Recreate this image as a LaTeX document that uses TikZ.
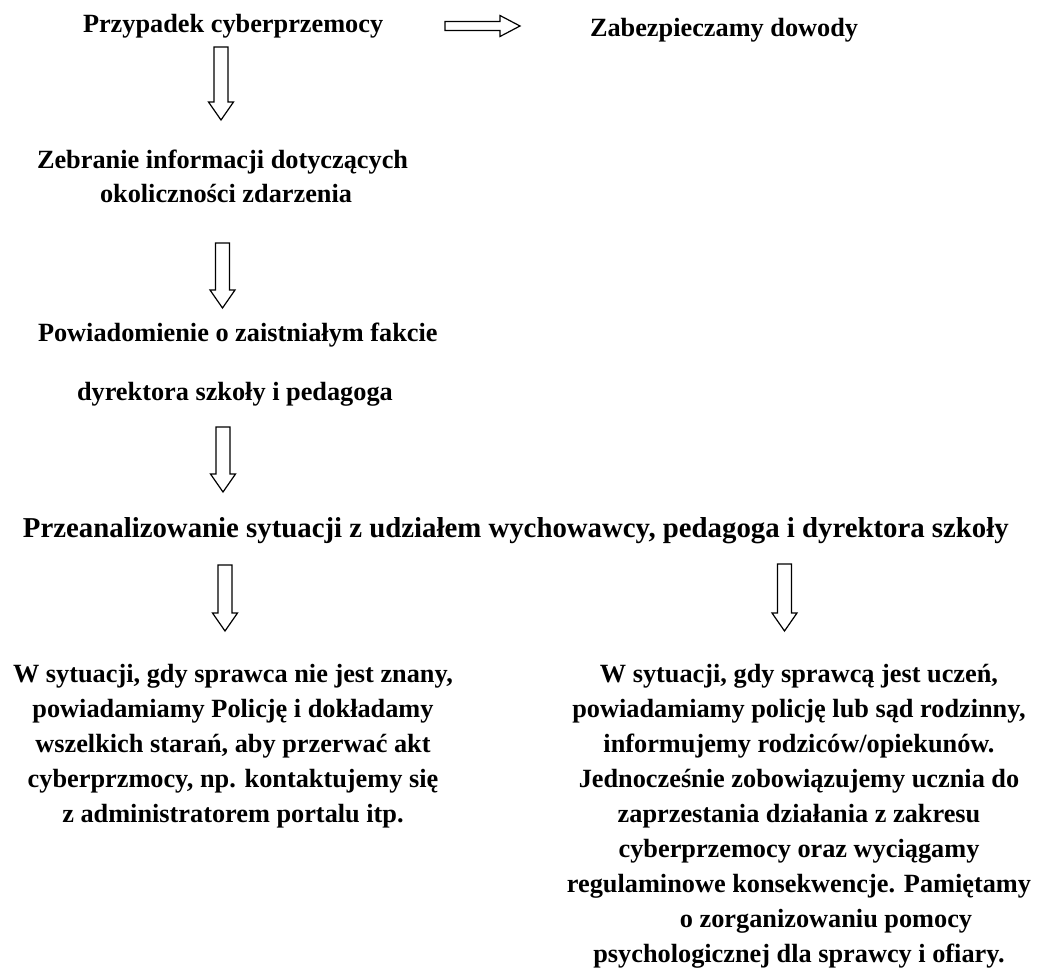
\documentclass[tikz,border=0pt]{standalone}
\usepackage{fontspec}
\setmainfont{Liberation Serif}
\newcommand\DArrow[3]{% x, top, tip
  \draw[blockarrow] ({#1-7},#2) -- ({#1+7},#2) -- ({#1+7},{#3-18}) -- ({#1+12.5},{#3-18})
    -- (#1,#3) -- ({#1-12.5},{#3-18}) -- ({#1-7},{#3-18}) -- cycle;}
\begin{document}
\begin{tikzpicture}[x=1pt,y=-1pt,
  txt/.style={inner sep=0pt,outer sep=0pt,font=\fontsize{26.3}{35}\selectfont\bfseries},
  para/.style={txt,align=center},
  blockarrow/.style={draw=black,line width=1.2pt,fill=white,line join=miter}]
\useasboundingbox[fill=white] (0,0) rectangle (1037,978);

\node[txt,anchor=base west] (t1) at (83,32) {Przypadek cyberprzemocy};
\node[txt,anchor=base west] (t2) at (590,36) {Zabezpieczamy dowody};
\node[txt,anchor=base west] (t3a) at (37,168) {Zebranie informacji dotyczących};
\node[txt,anchor=base west] (t3b) at (100,202) {okoliczności zdarzenia};
\node[txt,anchor=base west] (t4a) at (38,341) {Powiadomienie o zaistniałym fakcie};
\node[txt,anchor=base west] (t4b) at (77,400) {dyrektora szkoły i pedagoga};
\node[txt,anchor=base west,font=\fontsize{28.8}{35}\selectfont\bfseries] (t5) at (23,537) {Przeanalizowanie sytuacji z udziałem wychowawcy, pedagoga i dyrektora szkoły};

\node[para,anchor=base] (t6) at (233,822) {W sytuacji, gdy sprawca nie jest znany,\\
powiadamiamy Policję i dokładamy\\
wszelkich starań, aby przerwać akt\\
cyberprzmocy, np. kontaktujemy się\\
z administratorem portalu itp.};

\node[para,anchor=base] (t7) at (799,962) {W sytuacji, gdy sprawcą jest uczeń,\\
powiadamiamy policję lub sąd rodzinny,\\
informujemy rodziców/opiekunów.\\
Jednocześnie zobowiązujemy ucznia do\\
zaprzestania działania z zakresu\\
cyberprzemocy oraz wyciągamy\\
regulaminowe konsekwencje. Pamiętamy\\
\hspace*{54pt}o zorganizowaniu pomocy\\
psychologicznej dla sprawcy i ofiary.};

% horizontal block arrow
\draw[blockarrow] (445,21.5) -- (500,21.5) -- (500,15.5) -- (520,26) -- (500,36.5) -- (500,30.5) -- (445,30.5) -- cycle;

\DArrow{221}{47}{120}
\DArrow{222.5}{243}{308}
\DArrow{223}{427}{492}
\DArrow{225}{565}{631}
\DArrow{784.5}{564}{631}
\end{tikzpicture}
\end{document}
